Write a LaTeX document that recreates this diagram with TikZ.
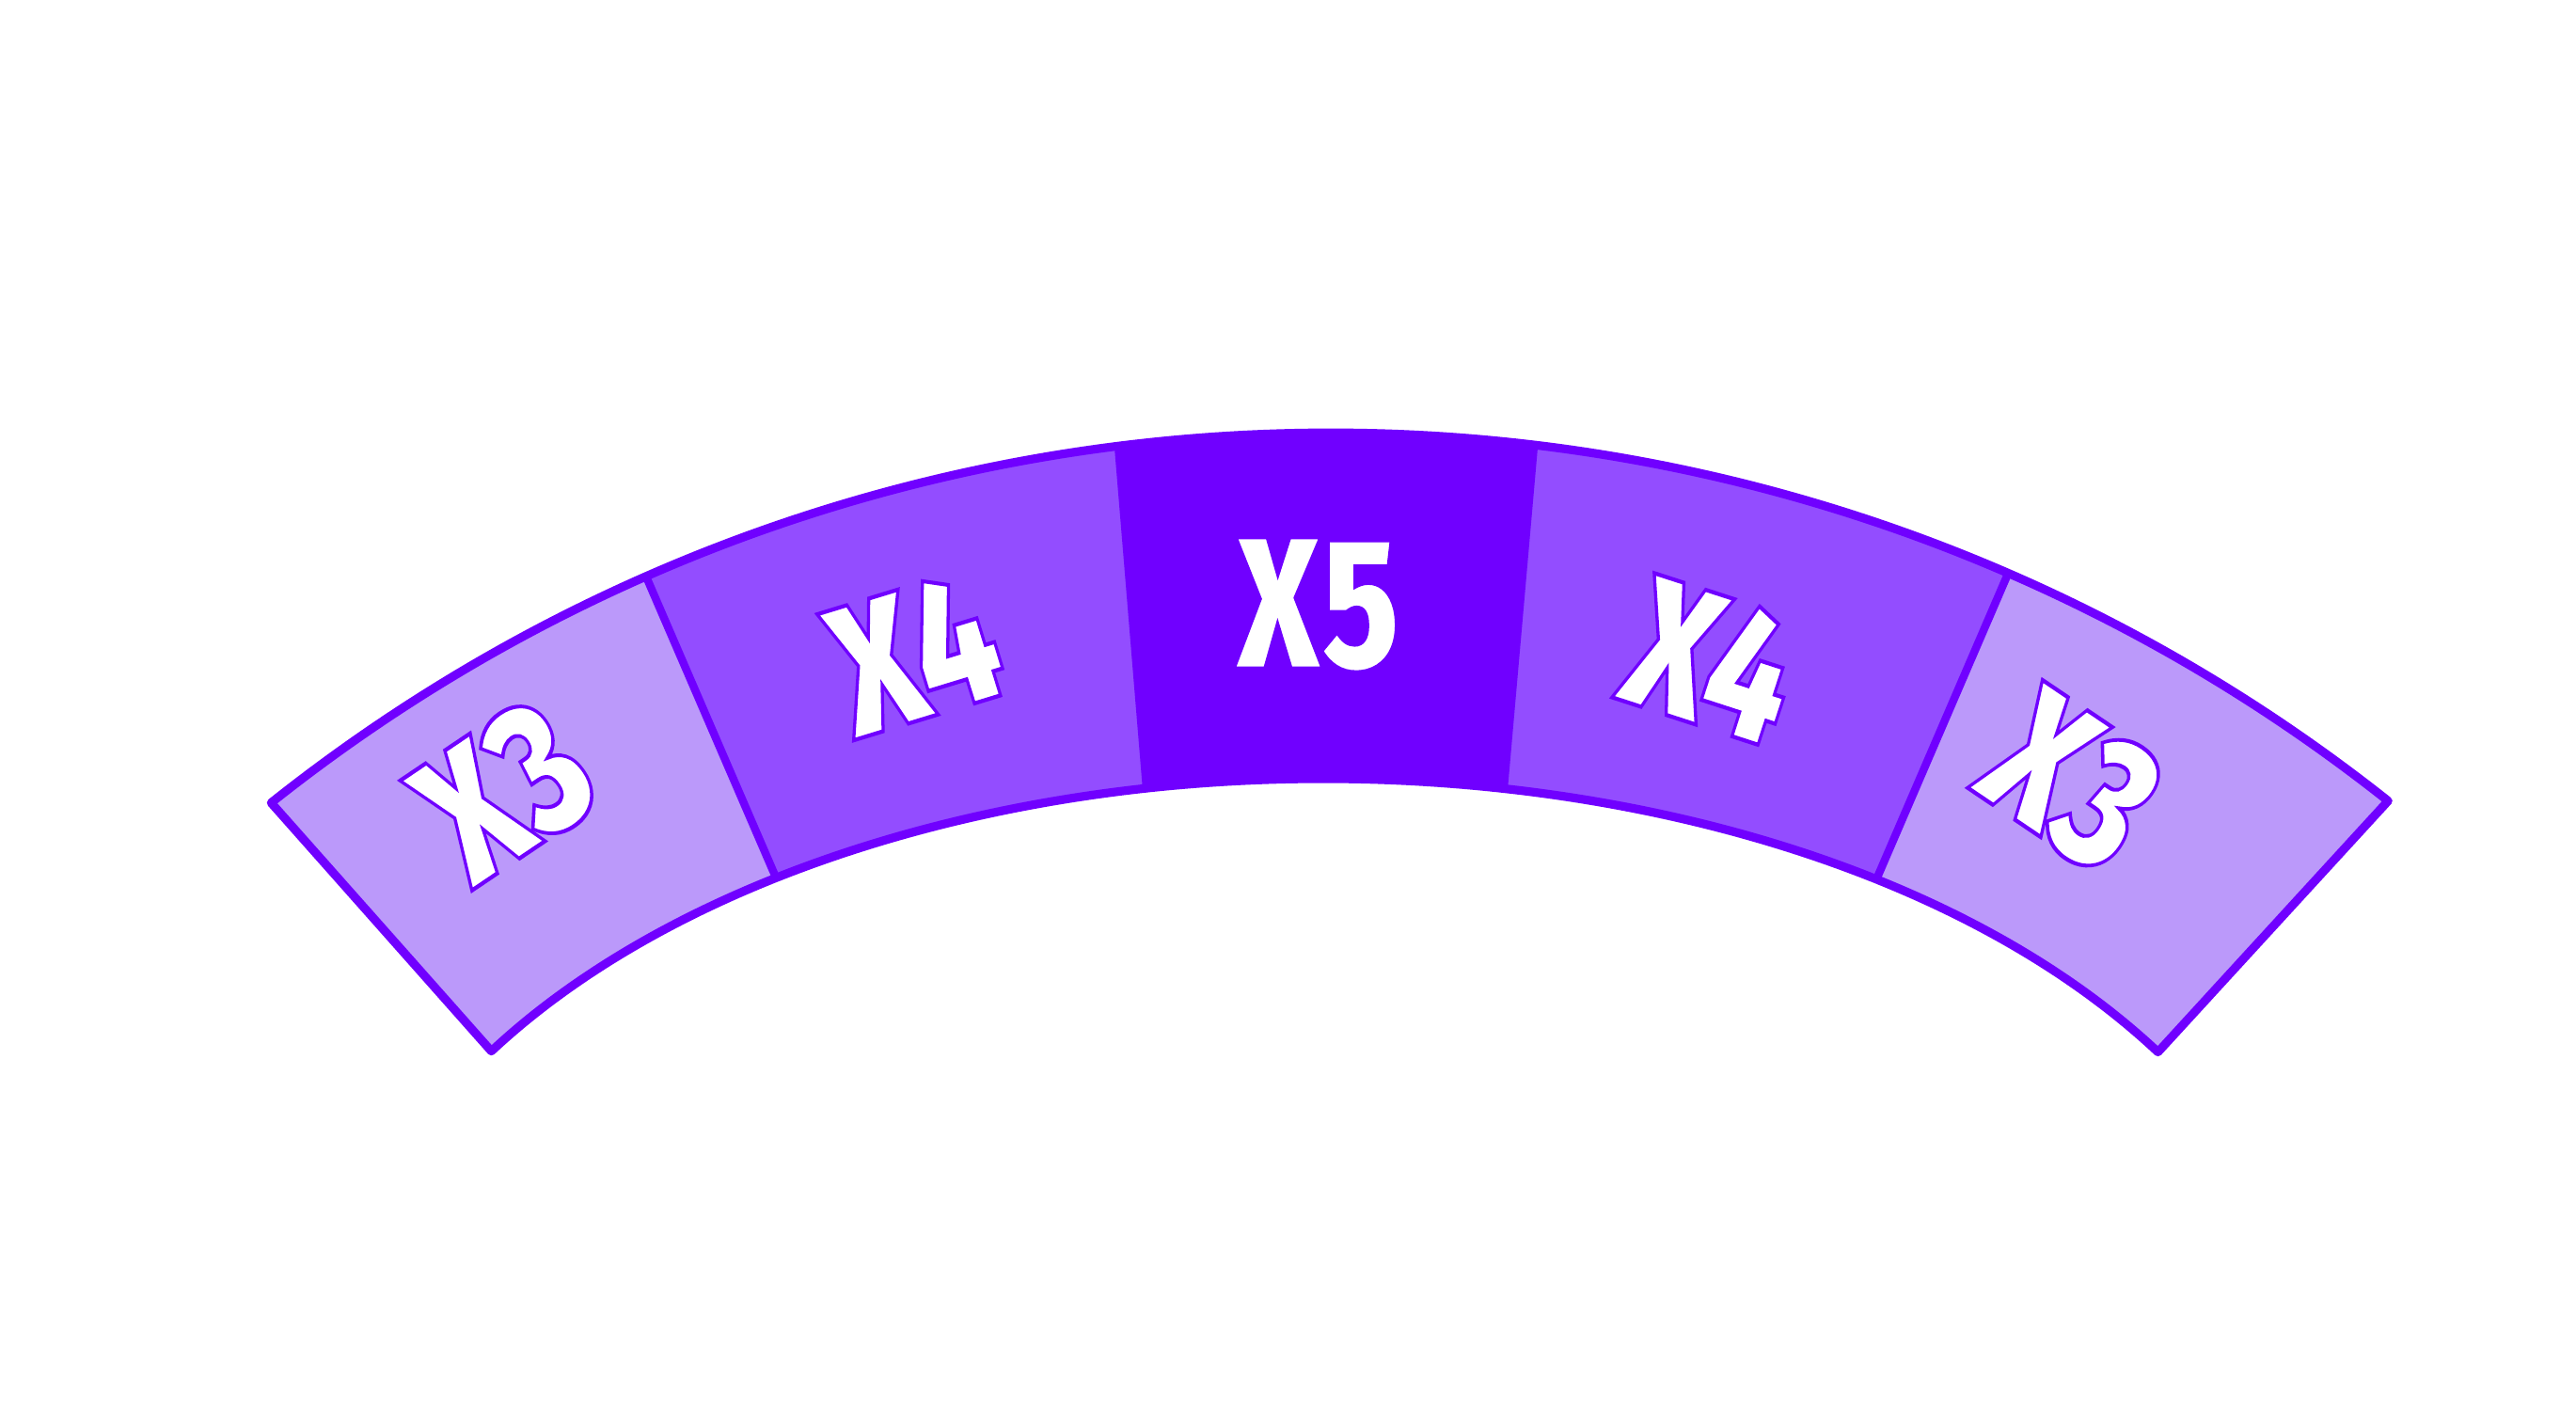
\documentclass[tikz,border=0pt]{standalone}
\usepackage{fontspec}
\setmainfont{Fira Sans}
\newfontfamily\multfont{Fira Sans}[UprightFont=* Black]
\usetikzlibrary{calc}
\definecolor{wheeldark}{HTML}{7000FF}
\definecolor{wheelmid}{HTML}{934DFF}
\definecolor{wheellight}{HTML}{BB99FA}
% white letters with a thin purple edge
\newcommand\rimtext[1]{\special{pdf:literal direct 0.439 0 1 RG 2 Tr 1.2 w}\scalebox{0.75}[1]{#1}\special{pdf:literal direct 0 Tr}}
\tikzset{
  multlabel/.style={text=white, inner sep=0pt, font=\fontsize{57}{62}\selectfont\multfont},
  rimline/.style={draw=wheeldark, line width=2.6pt, line join=round},
  divider/.style={draw=wheeldark, line width=2.4pt}
}
\def\band{($(oc)+(128.5:18.1)$) arc[start angle=128.5, end angle=51.6, radius=18.1]
  -- ($(ic)+(32.4:10.5 and 6.26)$) arc[start angle=32.4, end angle=147.5, x radius=10.5, y radius=6.26] -- cycle}

\begin{document}
\begin{tikzpicture}
\useasboundingbox (0,0) rectangle (27.39,-15.12);
\coordinate (oc) at (14.15,-22.70);
\coordinate (ic) at (14.08,-14.54);
% borders between the fields
\coordinate (o1) at (6.87,-6.13);
\coordinate (i1) at (8.25,-9.33);
\coordinate (o2) at (11.85,-4.76);
\coordinate (i2) at (12.15,-8.40);
\coordinate (o3) at (16.35,-4.76);
\coordinate (i3) at (16.03,-8.40);
\coordinate (o4) at (21.35,-6.10);
\coordinate (i4) at (19.93,-9.40);
\begin{scope}
\clip \band;
\fill[wheellight] (0,0) rectangle (27.39,-15.12);
\fill[wheelmid] ($(o1)!-0.5!(i1)$) -- ($(o1)!1.5!(i1)$) -- ($(o4)!1.5!(i4)$) -- ($(o4)!-0.5!(i4)$) -- cycle;
\fill[wheeldark] ($(o2)!-0.5!(i2)$) -- ($(o2)!1.5!(i2)$) -- ($(o3)!1.5!(i3)$) -- ($(o3)!-0.5!(i3)$) -- cycle;
\draw[divider] ($(o1)!-0.5!(i1)$) -- ($(o1)!1.5!(i1)$);
\draw[divider] ($(o4)!-0.5!(i4)$) -- ($(o4)!1.5!(i4)$);
\end{scope}
\draw[rimline] \band;
% multipliers
\node[multlabel, rotate=34] (xleft3) at (5.36,-8.42) {\rimtext{X3}};
\node[multlabel, rotate=17] (xleft4) at (9.72,-6.94) {\rimtext{X4}};
\node[multlabel] (xmid5) at (14.01,-6.43) {\rimtext{X5}};
\node[multlabel, rotate=-18] (xright4) at (18.20,-7.02) {\rimtext{X4}};
\node[multlabel, rotate=-34] (xright3) at (22.02,-8.30) {\rimtext{X3}};
\end{tikzpicture}
\end{document}
